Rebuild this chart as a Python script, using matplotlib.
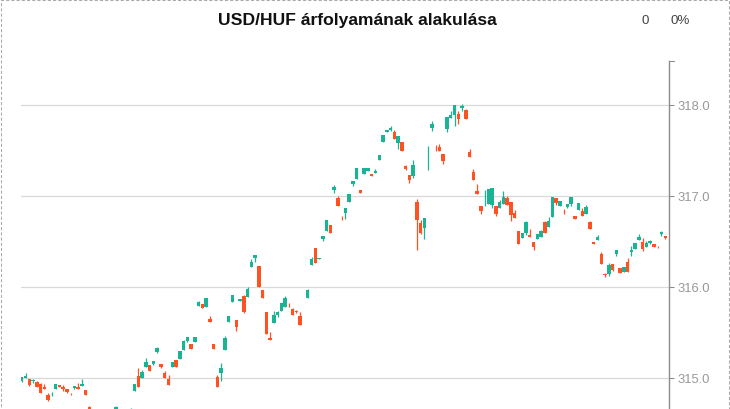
import matplotlib.pyplot as plt
from matplotlib.patches import Rectangle

# candle data (slot = period index, missing slots = no candle)
slot = list(range(0, 19)) + [25, 29] + list(range(30, 75)) + list(range(76, 172))

open_ = [314.970, 314.997, 314.989, 314.964, 314.956, 314.934, 314.905, 314.816, 314.815, 314.876,
         314.923, 314.905, 314.876, 314.836, 314.890, 314.905, 314.915, 314.868, 314.681,
         314.560, 314.600,
         314.860, 315.022, 315.003, 315.124, 315.143, 315.154, 315.286, 315.154, 315.055, 314.989,
         315.124, 315.198, 315.212, 315.308, 315.410, 315.374, 315.396, 315.794, 315.813, 315.778,
         315.652, 315.374, 315.015, 315.059, 315.308, 315.619, 315.838, 315.637, 315.842, 315.904,
         315.887, 316.222, 316.319, 316.231, 315.967, 315.725, 315.443, 315.609, 315.696, 315.736,
         315.784, 315.801, 315.758, 315.731, 315.681,
         315.882, 316.242, 316.429, 316.310, 316.532, 316.615, 316.681, 317.066, 316.981, 316.761,
         316.810, 316.938, 317.132, 317.190, 317.069, 317.245, 317.280, 317.245, 317.256, 317.392,
         317.593, 317.707, 317.725, 317.703, 317.586, 317.593, 317.326, 317.231, 317.220, 316.937,
         316.707, 316.652, 317.400, 317.747, 317.521, 317.538, 317.462, 317.740, 317.854, 317.890,
         317.901, 317.971, 317.945, 317.484, 317.264, 317.055, 316.890, 316.975, 316.912, 316.901,
         316.890, 316.872, 316.915, 316.978, 316.934, 316.817, 316.615, 316.542, 316.597, 316.575,
         316.494, 316.527, 316.549, 316.714, 316.659, 316.769, 316.978, 316.893, 316.831, 316.879,
         316.915, 316.780, 316.850, 316.835, 316.805, 316.714, 316.494, 316.516, 316.366, 316.146,
         316.146, 316.253, 316.359, 316.209, 316.161, 316.271, 316.381, 316.418, 316.516, 316.494,
         316.440, 316.484, 316.473, 316.451, 316.582, 316.560]

high = [315.015, 315.050, 314.990, 314.992, 314.967, 314.945, 314.934, 314.832, 314.850, 314.934,
        314.923, 314.920, 314.876, 314.840, 314.912, 314.942, 314.989, 314.868, 314.690,
        314.695, 314.674,
        314.934, 315.110, 315.088, 315.216, 315.143, 315.187, 315.340, 315.154, 315.077, 315.033,
        315.173, 315.198, 315.293, 315.418, 315.454, 315.374, 315.451, 315.850, 315.813, 315.879,
        315.680, 315.374, 315.030, 315.165, 315.460, 315.685, 315.912, 315.637, 315.871, 315.915,
        316.000, 316.308, 316.352, 316.231, 315.967, 315.725, 315.510, 315.736, 315.736, 315.821,
        315.900, 315.820, 315.770, 315.750, 315.720,
        315.980, 316.330, 316.429, 316.322, 316.560, 316.736, 316.681, 317.124, 317.004, 316.780,
        316.871, 317.022, 317.165, 317.308, 317.069, 317.308, 317.308, 317.245, 317.300, 317.451,
        317.670, 317.725, 317.773, 317.725, 317.659, 317.593, 317.344, 317.231, 317.396, 316.967,
        316.736, 316.758, 317.549, 317.824, 317.560, 317.570, 317.462, 317.868, 317.934, 318.000,
        317.934, 318.008, 317.960, 317.516, 317.297, 317.132, 316.890, 317.063, 317.077, 317.085,
        316.890, 316.956, 317.055, 317.000, 316.934, 316.846, 316.615, 316.597, 316.725, 316.637,
        316.494, 316.579, 316.626, 316.725, 316.769, 316.989, 316.978, 316.945, 316.857, 316.915,
        316.989, 316.780, 316.923, 316.865, 316.900, 316.725, 316.494, 316.571, 316.385, 316.154,
        316.264, 316.253, 316.403, 316.209, 316.220, 316.315, 316.451, 316.484, 316.582, 316.538,
        316.502, 316.516, 316.473, 316.451, 316.615, 316.560]

low = [314.960, 314.997, 314.912, 314.949, 314.898, 314.838, 314.882, 314.750, 314.800, 314.876,
       314.901, 314.861, 314.832, 314.810, 314.879, 314.882, 314.915, 314.816, 314.550,
       314.550, 314.590,
       314.860, 314.905, 315.003, 315.124, 315.080, 315.143, 315.270, 315.110, 315.003, 314.926,
       315.124, 315.124, 315.212, 315.308, 315.400, 315.322, 315.396, 315.794, 315.773, 315.778,
       315.619, 315.319, 314.905, 314.970, 315.308, 315.619, 315.838, 315.520, 315.842, 315.710,
       315.887, 316.222, 316.270, 316.000, 315.882, 315.487, 315.418, 315.609, 315.674, 315.736,
       315.784, 315.780, 315.696, 315.710, 315.586,
       315.882, 316.242, 316.260, 316.310, 316.510, 316.615, 316.597, 317.036, 316.893, 316.740,
       316.750, 316.938, 317.110, 317.190, 317.036, 317.245, 317.280, 317.224, 317.256, 317.392,
       317.593, 317.707, 317.710, 317.630, 317.516, 317.498, 317.282, 317.146, 317.200, 316.410,
       316.580, 316.530, 317.286, 317.714, 317.490, 317.494, 317.350, 317.707, 317.854, 317.773,
       317.791, 317.934, 317.846, 317.429, 317.179, 317.025, 316.805, 316.887, 316.912, 316.871,
       316.783, 316.872, 316.915, 316.901, 316.730, 316.762, 316.476, 316.542, 316.571, 316.553,
       316.410, 316.527, 316.549, 316.590, 316.659, 316.769, 316.900, 316.893, 316.805, 316.865,
       316.893, 316.751, 316.850, 316.780, 316.805, 316.641, 316.476, 316.516, 316.253, 316.110,
       316.120, 316.176, 316.340, 316.154, 316.161, 316.165, 316.337, 316.418, 316.516, 316.400,
       316.440, 316.473, 316.440, 316.429, 316.560, 316.527]

close = [315.008, 315.025, 314.923, 314.981, 314.898, 314.838, 314.882, 314.758, 314.818, 314.934,
         314.901, 314.876, 314.846, 314.834, 314.912, 314.882, 314.934, 314.816, 314.560,
         314.680, 314.602,
         314.934, 314.905, 315.063, 315.176, 315.080, 315.187, 315.330, 315.124, 315.003, 314.926,
         315.173, 315.124, 315.293, 315.403, 315.454, 315.322, 315.451, 315.835, 315.773, 315.879,
         315.619, 315.319, 314.905, 315.110, 315.440, 315.685, 315.912, 315.557, 315.871, 315.725,
         315.975, 316.275, 316.352, 316.000, 315.882, 315.487, 315.418, 315.696, 315.722, 315.821,
         315.876, 315.800, 315.696, 315.730, 315.586,
         315.963, 316.308, 316.260, 316.322, 316.560, 316.736, 316.597, 317.102, 316.893, 316.760,
         316.871, 317.022, 317.165, 317.308, 317.036, 317.308, 317.308, 317.224, 317.275, 317.451,
         317.670, 317.725, 317.751, 317.630, 317.659, 317.498, 317.300, 317.179, 317.341, 316.736,
         316.593, 316.758, 317.401, 317.794, 317.520, 317.494, 317.388, 317.868, 317.893, 318.000,
         317.846, 317.992, 317.846, 317.429, 317.179, 317.025, 316.838, 316.976, 317.077, 317.085,
         316.799, 316.937, 316.989, 316.901, 316.791, 316.762, 316.476, 316.597, 316.711, 316.553,
         316.443, 316.579, 316.615, 316.590, 316.725, 316.989, 316.923, 316.945, 316.830, 316.915,
         316.989, 316.751, 316.923, 316.780, 316.879, 316.641, 316.476, 316.549, 316.253, 316.129,
         316.242, 316.190, 316.403, 316.154, 316.220, 316.165, 316.407, 316.484, 316.549, 316.418,
         316.484, 316.505, 316.440, 316.450, 316.604, 316.538]

title = 'USD/HUF árfolyamának alakulása'
change_abs = '0'
change_pct = '0%'
y_ticks = [315.0, 316.0, 317.0, 318.0]

UP = '#1ab394'
DOWN = '#fe5222'

plt.rcParams['font.family'] = ['Liberation Sans', 'DejaVu Sans']

W, H = 730, 410
fig = plt.figure(figsize=(W / 100, H / 100), dpi=100)

# plot area runs past the bottom edge of the picture (cropped like the original)
ax = fig.add_axes([21 / W, 1 - 471 / H, 648 / W, (471 - 61.5) / H])
ax.set_xlim(-0.2, 172.0)
ax.set_ylim(313.989, 318.489)

colors = [UP if c >= o else DOWN for o, c in zip(open_, close)]
ax.vlines(slot, low, high, colors=colors, lw=0.9, zorder=2)
ax.bar(slot, [c - o for o, c in zip(open_, close)], bottom=open_, width=0.92,
       color=colors, linewidth=0, zorder=3)

# axes styling
for side in ['left', 'top', 'bottom']:
    ax.spines[side].set_visible(False)
ax.spines['right'].set_color('#8c8c8c')
ax.spines['right'].set_linewidth(1)
ax.set_xticks([])
ax.yaxis.tick_right()
ax.set_yticks(y_ticks)
ax.set_yticklabels([f'{v:.1f}' for v in y_ticks])
ax.tick_params(axis='y', length=3.6, width=0.75, color='#8c8c8c', pad=2.5,
               labelsize=9.4, labelcolor='#999999')
ax.grid(axis='y', color='#d9d9d9', lw=0.9)
ax.set_axisbelow(True)
# small cap tick at the top end of the value axis
ax.plot([1, 1 + 5 / 648], [1, 1], transform=ax.transAxes, color='#8c8c8c',
        lw=0.75, clip_on=False)

fig.text(357 / W, 1 - 20.5 / H, title, ha='center', va='center',
         fontsize=12.6, fontweight='bold', color='#111111')
fig.text(645 / W, 1 - 21 / H, change_abs, ha='center', va='center',
         fontsize=9.6, color='#444444')
fig.text(680 / W, 1 - 21 / H, change_pct, ha='center', va='center',
         fontsize=9.6, color='#444444')

# dashed outer frame
fig.patches.append(Rectangle((0.5 / W, -0.1), (W - 1.5) / W, 1.1 - 0.5 / H,
                             transform=fig.transFigure, fill=False,
                             edgecolor='#aaaaaa', lw=0.75, linestyle=(0, (3, 2))))

fig.savefig('out.png', dpi=100)
